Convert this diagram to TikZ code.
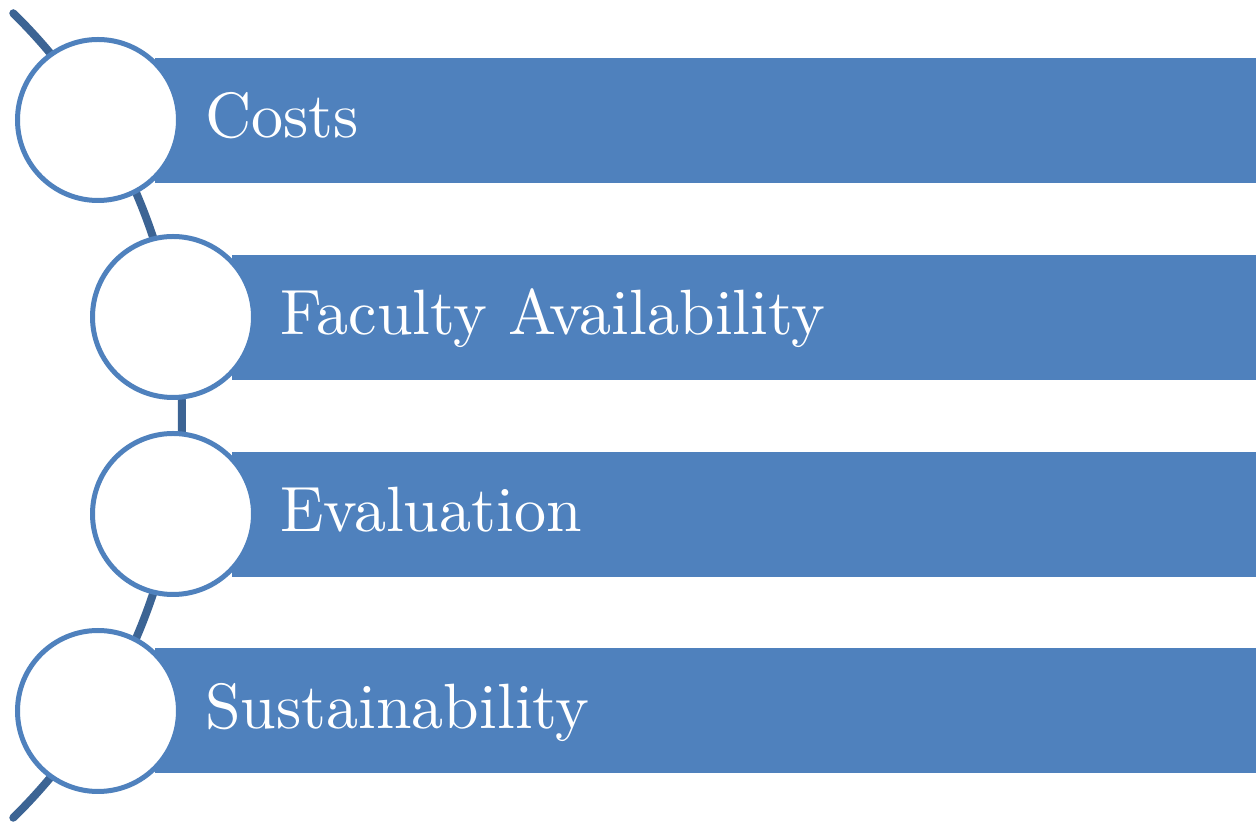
\documentclass[tikz,border=0pt]{standalone}
\usepackage{fontspec}
\newfontfamily\lmten{lmroman10-regular.otf}
\definecolor{barblue}{HTML}{4F81BD}
\definecolor{arcblue}{HTML}{3C6494}
\begin{document}
\begin{tikzpicture}[x=1pt,y=1pt,
  bar/.style={fill=barblue, draw=none, rectangle, anchor=south west, inner sep=0pt, minimum height=125pt},
  ring/.style={circle, draw=barblue, line width=5pt, fill=white, minimum size=161pt, inner sep=0pt},
  label/.style={text=white, anchor=base west, inner sep=0pt, font=\lmten\fontsize{64}{72}\selectfont},
  arcline/.style={draw=arcblue, line width=8pt, line cap=round}]
\useasboundingbox (0,0) rectangle (1256,824);
% arc behind circles
\coordinate (arccenter) at (-382,408.5);
\draw[arcline] (arccenter) ++(45.5:564pt) coordinate (arctop) arc[start angle=45.5, end angle=-45.5, radius=564pt] coordinate (arcbottom);
% bars
\node[bar, minimum width=1101pt] (b1) at (155,641) {};
\node[bar, minimum width=1024pt] (b2) at (232,444) {};
\node[bar, minimum width=1024pt] (b3) at (232,247) {};
\node[bar, minimum width=1101pt] (b4) at (155,51) {};
% circles
\node[ring] (c1) at (98,704) {};
\node[ring] (c2) at (173,507) {};
\node[ring] (c3) at (173,310) {};
\node[ring] (c4) at (98,113) {};
% labels
\node[label] (t1) at (205,686) {Costs};
\node[label] (t2) at (280,489) {Faculty Availability};
\node[label] (t3) at (280,292) {Evaluation};
\node[label] (t4) at (205,95) {Sustainability};
\end{tikzpicture}
\end{document}
